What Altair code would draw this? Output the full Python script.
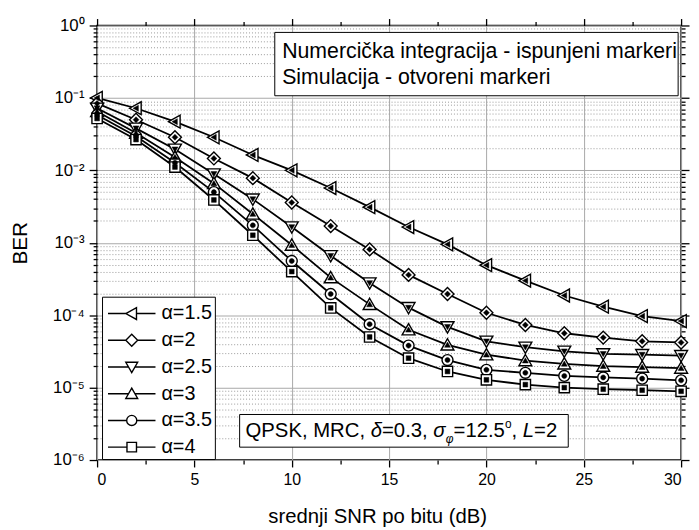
import math
import altair as alt
import pandas as pd

# ---------------- data ----------------
snr_db = [0, 2, 4, 6, 8, 10, 12, 14, 16, 18, 20, 22, 24, 26, 28, 30]
alpha_labels = ["α=1.5", "α=2", "α=2.5", "α=3", "α=3.5", "α=4"]

ber_alpha_1_5 = [0.100, 0.072, 0.047, 0.0286, 0.0163, 0.0100, 0.0057, 0.0031,
                 0.00165, 0.00095, 0.00049, 0.00030, 0.000187, 0.000131, 0.000097, 0.000083]
ber_alpha_2 = [0.084, 0.050, 0.0286, 0.0146, 0.0078, 0.0036, 0.0017, 0.00081,
               0.00036, 0.000196, 0.000108, 0.0000733, 0.0000563, 0.000049, 0.0000436, 0.000042]
ber_alpha_2_5 = [0.072, 0.038, 0.0195, 0.0089, 0.0040, 0.00165, 0.00066, 0.000278,
                 0.000127, 0.000069, 0.0000436, 0.0000361, 0.0000317, 0.0000292, 0.0000285, 0.0000276]
ber_alpha_3 = [0.065, 0.0327, 0.0152, 0.0066, 0.0025, 0.00093, 0.00033, 0.000141,
               0.000063, 0.0000389, 0.0000285, 0.0000236, 0.0000213, 0.0000198, 0.0000192, 0.0000186]
ber_alpha_3_5 = [0.058, 0.0295, 0.0127, 0.0050, 0.00174, 0.00056, 0.000196, 0.000075,
                 0.000038, 0.000024, 0.0000176, 0.000016, 0.0000145, 0.0000138, 0.0000133, 0.0000126]
ber_alpha_4 = [0.052, 0.0266, 0.0111, 0.0039, 0.00127, 0.00040, 0.000126, 0.000050,
               0.0000255, 0.0000167, 0.0000128, 0.0000110, 0.0000100, 0.0000095, 0.0000092, 0.0000089]
ber_series = [ber_alpha_1_5, ber_alpha_2, ber_alpha_2_5, ber_alpha_3, ber_alpha_3_5, ber_alpha_4]

x_major_ticks = [0, 5, 10, 15, 20, 25, 30]
x_minor_ticks = [2.5, 7.5, 12.5, 17.5, 22.5, 27.5]
y_major_ticks = [1e-6, 1e-5, 1e-4, 1e-3, 1e-2, 1e-1, 1.0]
y_major_labels = ["10⁻⁶", "10⁻⁵", "10⁻⁴", "10⁻³", "10⁻²", "10⁻¹", "10⁰"]
y_minor_ticks = [m * 10.0 ** e for e in range(-6, 0) for m in range(2, 10)]

x_title = "srednji SNR po bitu (dB)"
y_title = "BER"
note_line1 = "Numercička integracija - ispunjeni markeri"
note_line2 = "Simulacija - otvoreni markeri"

rows = [{"snr": s, "ber": b, "alpha": a}
        for a, vals in zip(alpha_labels, ber_series)
        for s, b in zip(snr_db, vals)]
df = pd.DataFrame(rows)

# ---------------- styling ----------------
W, H = 590, 439
FONT = "Liberation Sans"

# marker outlines in unit coordinates
marker_paths = [
    "M-1,0L0.8,-1L0.8,1Z",                                            # triangle-left
    "M0,-1L1,0L0,1L-1,0Z",                                            # diamond
    "M-1,-0.8L1,-0.8L0,0.95Z",                                        # triangle-down
    "M0,-0.95L1,0.8L-1,0.8Z",                                         # triangle-up
    "M0.85,0A0.85,0.85,0,1,1,-0.85,0A0.85,0.85,0,1,1,0.85,0Z",        # circle
    "M-0.8,-0.8H0.8V0.8H-0.8Z",                                       # square
]
half_left = [1.0, 1.0, 0.54, 0.54, 0.85, 0.8]
half_right = [0.8, 1.0, 0.54, 0.54, 0.85, 0.8]
legend_paths = [f"M-4,0L-{l},0M{r},0L4,0" + p
                for p, l, r in zip(marker_paths, half_left, half_right)]

x_scale = alt.Scale(domain=[0, 30], nice=False, zero=False)
y_scale = alt.Scale(type="log", domain=[1e-6, 1], nice=False)

label_expr = f"'{y_major_labels[-1]}'"
for v, lab in zip(y_major_ticks[:-1], y_major_labels[:-1]):
    e = round(math.log10(v))
    label_expr = f"round(log(datum.value)/LN10) == {e} ? '{lab}' : " + label_expr

common_tick = dict(tickColor="black", tickWidth=1.3, domain=False)

x_axis_major = alt.Axis(orient="bottom", values=x_major_ticks, tickSize=7, grid=True,
                        gridColor="#a8a8a8", gridWidth=1, labelFont=FONT, labelFontSize=16,
                        labelColor="black", labelPadding=5, title=x_title, titleFont=FONT,
                        titleFontSize=20.5, titleFontWeight="normal", titleColor="black",
                        titlePadding=19, titleX=283, **common_tick)
x_axis_minor = alt.Axis(orient="bottom", values=x_minor_ticks, tickSize=4, grid=False,
                        labels=False, title=None, **common_tick)
x_axis_top = alt.Axis(orient="top", values=x_major_ticks, tickSize=7, grid=False,
                      labels=False, title=None, **common_tick)
x_axis_top_minor = alt.Axis(orient="top", values=x_minor_ticks, tickSize=4, grid=False,
                            labels=False, title=None, **common_tick)

y_axis_major = alt.Axis(orient="left", values=y_major_ticks, tickSize=8, grid=True,
                        gridColor="#a8a8a8", gridWidth=1, labelExpr=label_expr,
                        labelFont=FONT, labelFontSize=17, labelColor="black", labelPadding=5,
                        title=y_title, titleFont=FONT, titleFontSize=21,
                        titleFontWeight="normal", titleColor="black", titlePadding=22,
                        **common_tick)
y_axis_minor = alt.Axis(orient="left", values=y_minor_ticks, tickSize=4, grid=True,
                        gridColor="#9a9a9a", gridDash=[1, 2], gridWidth=1,
                        labels=False, title=None, **common_tick)
y_axis_right = alt.Axis(orient="right", values=y_major_ticks, tickSize=8, grid=False,
                        labels=False, title=None, **common_tick)
y_axis_right_minor = alt.Axis(orient="right", values=y_minor_ticks, tickSize=4, grid=False,
                              labels=False, title=None, **common_tick)

base = alt.Chart(df)

lines = base.mark_line(color="black", strokeWidth=1.8, clip=False).encode(
    x=alt.X("snr:Q", scale=x_scale, axis=x_axis_major),
    y=alt.Y("ber:Q", scale=y_scale, axis=y_axis_major),
    detail="alpha:N",
)

open_pts = base.mark_point(filled=True, fill="white", stroke="black", strokeWidth=1.4,
                           size=170, opacity=1, clip=False).encode(
    x=alt.X("snr:Q", scale=x_scale, axis=x_axis_minor),
    y=alt.Y("ber:Q", scale=y_scale, axis=y_axis_minor),
    shape=alt.Shape("alpha:N", scale=alt.Scale(domain=alpha_labels, range=marker_paths),
                    legend=None),
)

filled_pts = base.mark_point(filled=True, fill="black", stroke="black", strokeWidth=0.5,
                             size=36, opacity=1, clip=False).encode(
    x=alt.X("snr:Q", scale=x_scale, axis=x_axis_top),
    y=alt.Y("ber:Q", scale=y_scale, axis=y_axis_right),
    shape=alt.Shape("alpha:N", scale=alt.Scale(domain=alpha_labels, range=marker_paths),
                    legend=None),
)

legend_layer = base.transform_filter("false").mark_point(
    filled=False, color="black", strokeWidth=1.4, size=144, opacity=1
).encode(
    x=alt.X("snr:Q", scale=x_scale, axis=x_axis_top_minor),
    y=alt.Y("ber:Q", scale=y_scale, axis=y_axis_right_minor),
    shape=alt.Shape(
        "alpha:N",
        scale=alt.Scale(domain=alpha_labels, range=legend_paths),
        legend=alt.Legend(
            orient="none", legendX=5, legendY=274, title=" ", titleFontSize=1,
            titlePadding=4,
            labelFont=FONT, labelFontSize=20, labelColor="black",
            symbolSize=144, symbolStrokeWidth=1.4, symbolOpacity=1,
            symbolOffset=18, labelOffset=20,
            strokeColor="black", fillColor="white", padding=2, rowPadding=7,
        ),
    ),
)

one = pd.DataFrame({"k": [0]})


def box(x1, x2, y1, y2):
    return alt.Chart(one).mark_rect(fill="white", stroke="black", strokeWidth=1).encode(
        x=alt.value(x1), x2=alt.value(x2), y=alt.value(y1), y2=alt.value(y2))


def txt(s, x, y, size=20, style="normal"):
    return alt.Chart(one).mark_text(align="left", baseline="alphabetic", font=FONT,
                                    fontSize=size, fontStyle=style, color="black").encode(
        x=alt.value(x), y=alt.value(y), text=alt.value(s))


ARIAL = {'Q': 778, 'P': 667, 'S': 667, 'K': 667, ',': 278, ' ': 278, 'M': 833, 'R': 722,
         'C': 722, '=': 584, '.': 278, 'L': 556, 'o': 556, 'δ': 556, 'σ': 617, 'φ': 648}


def width(s, size):
    return sum(ARIAL.get(c, 556) for c in s) * size / 1000.0


annotations = [box(179.5, 587, 7, 71), txt(note_line1, 187, 33, 21.5),
               txt(note_line2, 187, 59, 21.5), box(144, 476, 393, 426)]

pieces = [("QPSK, MRC, ", 20.5, "normal", 0), ("δ", 20.5, "italic", 0),
          ("=0.3, ", 20.5, "normal", 0), ("σ", 20.5, "italic", 0), ("φ", 12, "italic", 6),
          ("=12.5", 20.5, "normal", 0), ("o", 12, "normal", -9), (", ", 20.5, "normal", 0),
          ("L", 20.5, "italic", 0), ("=2", 20.5, "normal", 0)]
cx = 150.0
for s, size, style, dy in pieces:
    annotations.append(txt(s, cx, 416 + dy, size, style))
    cx += width(s, size)

chart = alt.layer(lines, open_pts, filled_pts, legend_layer, *annotations).resolve_scale(
    shape="independent"
).resolve_axis(
    x="independent", y="independent"
).properties(
    width=W, height=H,
    autosize=alt.AutoSizeParams(type="none"),
    padding={"left": 90, "top": 15, "right": 10, "bottom": 66},
).configure(font=FONT).configure_view(stroke="black", strokeWidth=1.5)

chart.save("out.html", embed_options={"renderer": "svg", "actions": False})
